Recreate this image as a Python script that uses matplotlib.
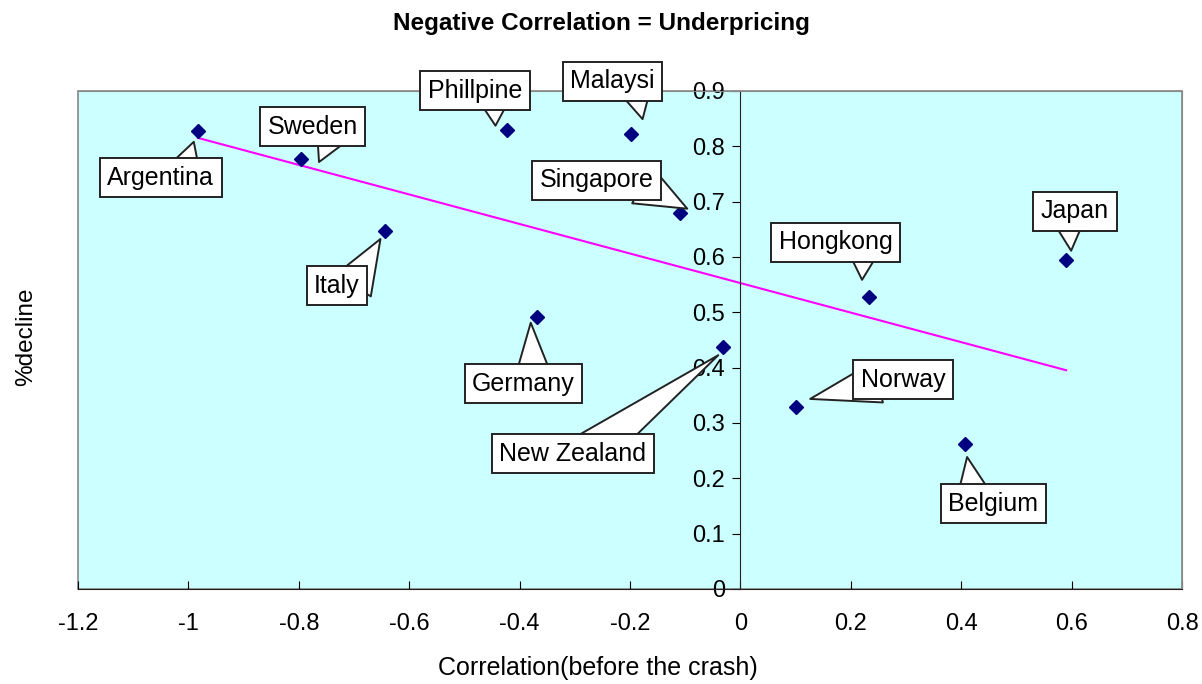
import numpy as np
import matplotlib
matplotlib.use("Agg")
import matplotlib.pyplot as plt
from matplotlib.patches import Rectangle
from matplotlib.ticker import FuncFormatter, MultipleLocator
from matplotlib.transforms import offset_copy

plt.rcParams['font.family'] = ['Liberation Sans', 'DejaVu Sans']

# correlation before the crash vs. % decline, one point per market
countries = ['Argentina', 'Sweden', 'Italy', 'Phillpine', 'Malaysi', 'Singapore',
             'Germany', 'New Zealand', 'Hongkong', 'Japan', 'Norway', 'Belgium']
corr = [-0.983, -0.796, -0.643, -0.422, -0.199, -0.109,
        -0.369, -0.031, 0.233, 0.590, 0.101, 0.407]
decline = [0.828, 0.777, 0.647, 0.830, 0.822, 0.680,
           0.492, 0.437, 0.528, 0.595, 0.329, 0.262]

# callout layout: box centre (data), where the pointer leaves the box (relpos),
# and how far the pointer tip stops from its point (pixels)
callout_pos = {
    'Argentina':   (-1.050, 0.743, (0.70, 0.5), (-4, -11)),
    'Sweden':      (-0.775, 0.835, (0.75, 0.5), (18, -3)),
    'Italy':       (-0.731, 0.548, (0.85, 0.5), (-5, -8)),
    'Phillpine':   (-0.481, 0.900, (0.70, 0.5), (-12, 4)),
    'Malaysi':     (-0.232, 0.918, (0.75, 0.5), (12, 15)),
    'Singapore':   (-0.261, 0.739, (0.90, 0.3), (7, 4)),
    'Germany':     (-0.393, 0.371, (0.60, 0.5), (-6, -6)),
    'New Zealand': (-0.304, 0.244, (0.60, 0.5), (-5, -8)),
    'Hongkong':    (0.172, 0.627, (0.75, 0.5), (-7, 17)),
    'Japan':       (0.606, 0.683, (0.40, 0.5), (5, 9)),
    'Norway':      (0.295, 0.378, (0.20, 0.4), (14, 8)),
    'Belgium':     (0.458, 0.154, (0.30, 0.5), (2, -13)),
}

fig = plt.figure(figsize=(12.02, 6.84), dpi=100)
ax = fig.add_axes([0.0649, 0.1389, 0.9185, 0.7281])
ax.set_facecolor('#ccffff')

ax.set_xlim(-1.2, 0.8)
ax.set_ylim(0, 0.9)

# linear trend through the points
slope, icpt = np.polyfit(corr, decline, 1)
xs = np.array([min(corr), max(corr)])
ax.plot(xs, slope * xs + icpt, color='#ff00ff', lw=1.5, zorder=2)

ax.plot(corr, decline, linestyle='none', marker='D', ms=7,
        color='#000080', zorder=3)

for name, cx, cy in zip(countries, corr, decline):
    lx, ly, rp, (dx, dy) = callout_pos[name]
    tip = offset_copy(ax.transData, fig=fig, x=dx, y=dy, units='dots')
    ax.annotate(name, xy=(cx, cy), xycoords=tip, xytext=(lx, ly), textcoords='data',
                fontsize=18, ha='center', va='center', annotation_clip=False, zorder=4,
                bbox=dict(boxstyle='square,pad=0.3', fc='white', ec='#222222', lw=1.4),
                arrowprops=dict(arrowstyle='wedge,tail_width=1.5', fc='white',
                                ec='#222222', lw=1.4, patchA=None, relpos=rp,
                                shrinkA=0, shrinkB=0, mutation_scale=20))

# frame around the plot area, y axis moved to x = 0
for s in ['top', 'right']:
    ax.spines[s].set_color('#888888')
ax.spines['left'].set_position(('data', 0))
ax.spines['left'].set_color('#222222')
ax.spines['bottom'].set_color('#222222')
ax.add_patch(Rectangle((0, 0), 1, 1, transform=ax.transAxes, fill=False,
                       ec='#888888', lw=1.2, zorder=0.5, clip_on=False))

fmt = FuncFormatter(lambda v, p: '%g' % round(v, 2))
ax.xaxis.set_major_locator(MultipleLocator(0.2))
ax.yaxis.set_major_locator(MultipleLocator(0.1))
ax.xaxis.set_major_formatter(fmt)
ax.yaxis.set_major_formatter(fmt)
ax.tick_params(axis='x', direction='in', length=6, pad=17, labelsize=17)
ax.tick_params(axis='y', direction='out', length=6, pad=5, labelsize=17)

ax.set_xlabel('Correlation(before the crash)', fontsize=18)
ax.xaxis.set_label_coords(0.471, -0.135)
ax.set_ylabel('%decline', fontsize=17.5)
ax.yaxis.set_label_coords(-0.037, 0.506)

fig.suptitle('Negative Correlation = Underpricing', fontsize=17.5,
             fontweight='bold', x=0.5, y=0.966, va='center')

fig.savefig('out.png', dpi=100)
